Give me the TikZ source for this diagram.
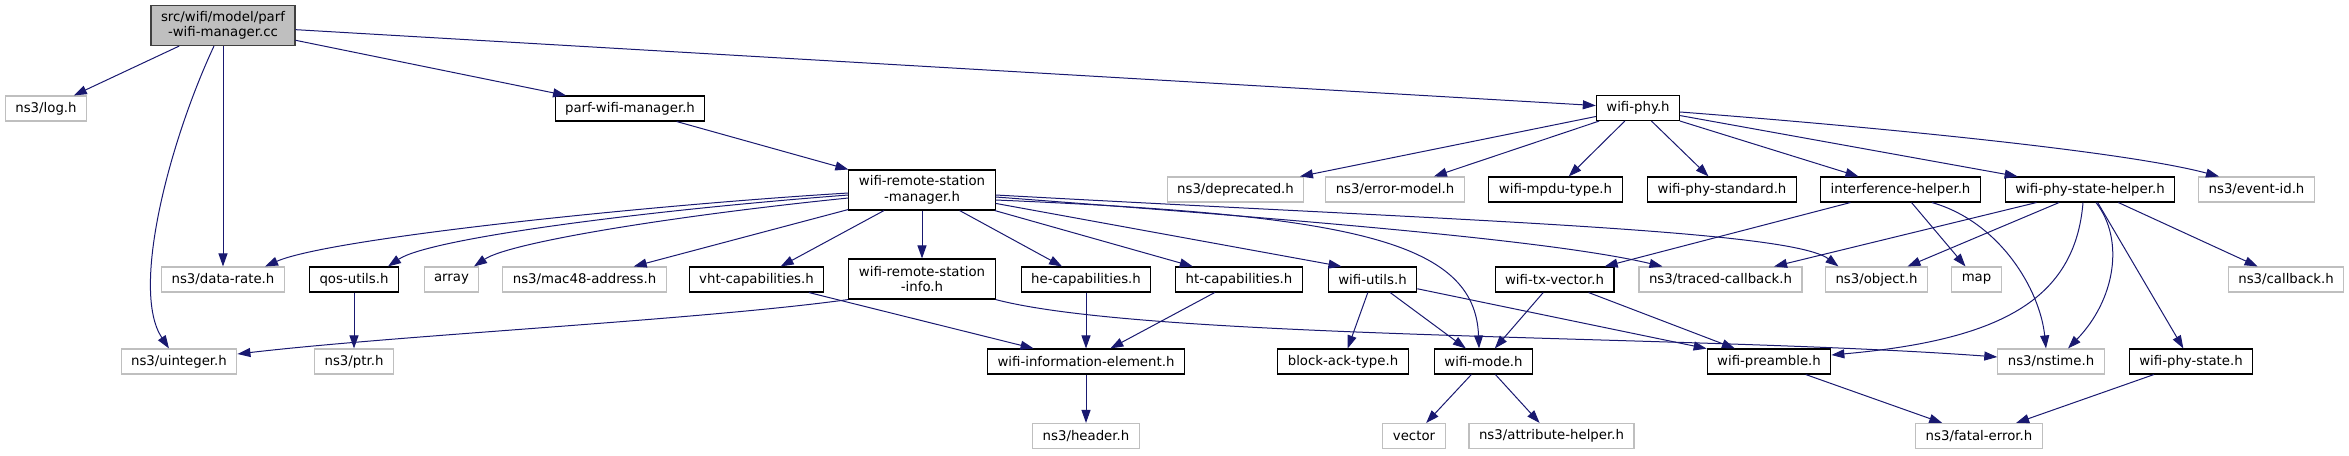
\documentclass[tikz,border=0pt]{standalone}
\usepackage{fontspec}
\setmainfont{DejaVu Sans}
\usetikzlibrary{arrows.meta}
\definecolor{edgeblue}{HTML}{191970}
\definecolor{extgray}{HTML}{BFBFBF}
\definecolor{rootline}{HTML}{404040}

\begin{document}
\begin{tikzpicture}[x=1pt, y=-1pt,
  every node/.style={font=\fontsize{13.3}{15.5}\selectfont, inner xsep=10pt, inner ysep=0pt, minimum height=25pt, line width=1.1pt},
  doc/.style={draw=black, fill=white},
  ext/.style={draw=extgray, fill=white},
  root/.style={draw=rootline, fill=extgray, align=center, minimum height=40pt},
  twoline/.style={doc, align=center, minimum height=40pt},
  dep/.style={edgeblue, line width=1pt, -{Triangle[length=13pt,width=9pt]}}]
  \useasboundingbox (0,0) rectangle (2349,455);
  % top rows
  \node[root] (cc) at (223,25.5) {src/wifi/model/parf\\-wifi-manager.cc};
  \node[ext] (logh) at (46,108.5) {ns3/log.h};
  \node[doc] (parfh) at (630,108.5) {parf-wifi-manager.h};
  \node[doc] (phyh) at (1638,108) {wifi-phy.h};
  \node[twoline] (wrsm) at (922,190) {wifi-remote-station\\-manager.h};
  \node[ext] (deprec) at (1235.5,189.5) {ns3/deprecated.h};
  \node[ext] (errmod) at (1395,189.5) {ns3/error-model.h};
  \node[doc] (mpdu) at (1555.5,189.5) {wifi-mpdu-type.h};
  \node[doc] (phystd) at (1722,189.5) {wifi-phy-standard.h};
  \node[doc] (interf) at (1900.5,189.5) {interference-helper.h};
  \node[doc] (statehelp) at (2090,189.5) {wifi-phy-state-helper.h};
  \node[ext] (eventid) at (2256.5,189.5) {ns3/event-id.h};
  % middle row
  \node[ext] (datarate) at (223,279.5) {ns3/data-rate.h};
  \node[doc] (qos) at (354,279.5) {qos-utils.h};
  \node[ext] (array) at (451.5,279.5) {array};
  \node[ext] (mac48) at (584.5,279.5) {ns3/mac48-address.h};
  \node[doc] (vht) at (756.5,279.5) {vht-capabilities.h};
  \node[twoline] (wrsinfo) at (922,279) {wifi-remote-station\\-info.h};
  \node[doc] (hecap) at (1086,279.5) {he-capabilities.h};
  \node[doc] (htcap) at (1239,279.5) {ht-capabilities.h};
  \node[doc] (utils) at (1372.5,279.5) {wifi-utils.h};
  \node[doc] (txvec) at (1554.5,279.5) {wifi-tx-vector.h};
  \node[ext] (traced) at (1720.5,279.5) {ns3/traced-callback.h};
  \node[ext] (object) at (1876.5,279.5) {ns3/object.h};
  \node[ext] (map) at (1976.5,279.5) {map};
  \node[ext] (callback) at (2286,279.5) {ns3/callback.h};
  % lower rows
  \node[ext] (uinteger) at (179,361.5) {ns3/uinteger.h};
  \node[ext] (ptr) at (354,361.5) {ns3/ptr.h};
  \node[doc] (infoel) at (1086,361.5) {wifi-information-element.h};
  \node[doc] (blockack) at (1343,361.5) {block-ack-type.h};
  \node[doc] (mode) at (1483.5,361.5) {wifi-mode.h};
  \node[doc] (preamble) at (1769,361.5) {wifi-preamble.h};
  \node[ext] (nstime) at (2051,361.5) {ns3/nstime.h};
  \node[doc] (physt) at (2191,361.5) {wifi-phy-state.h};
  \node[ext] (header) at (1086,436) {ns3/header.h};
  \node[ext] (vector) at (1414,436) {vector};
  \node[ext] (attrib) at (1551.5,436) {ns3/attribute-helper.h};
  \node[ext] (fatal) at (1979,436) {ns3/fatal-error.h};
  % includes of the .cc file
  \draw[dep] (cc) -- (logh);
  \draw[dep] ([xshift=-9pt]cc.south) .. controls (170,140) and (130,290) .. ([xshift=-10pt]uinteger.north);
  \draw[dep] (cc) -- (datarate);
  \draw[dep] (cc) -- (parfh);
  \draw[dep] (cc) -- (phyh);
  \draw[dep] (parfh) -- (wrsm);
  % wifi-remote-station-manager.h
  \draw[dep] ([yshift=-3pt]wrsm.west) .. controls (650,205) and (330,238) .. ([xshift=42pt]datarate.north);
  \draw[dep] ([yshift=-5pt]wrsm.west) .. controls (650,210) and (430,238) .. ([xshift=34pt]qos.north);
  \draw[dep] ([yshift=-8pt]wrsm.west) .. controls (680,215) and (510,242) .. ([xshift=22.5pt]array.north);
  \draw[dep] (wrsm) -- (mac48);
  \draw[dep] (wrsm) -- (vht);
  \draw[dep] (wrsm) -- (wrsinfo);
  \draw[dep] (wrsm) -- (hecap);
  \draw[dep] (wrsm) -- (htcap);
  \draw[dep] (wrsm) -- ([xshift=-31pt]utils.north);
  \draw[dep] ([yshift=-10pt]wrsm.east) .. controls (1350,215) and (1475,240) .. ([xshift=-4.5pt]mode.north);
  \draw[dep] ([yshift=-7pt]wrsm.east) .. controls (1300,220) and (1550,240) .. ([xshift=-58pt]traced.north);
  \draw[dep] ([yshift=-5pt]wrsm.east) .. controls (1450,220) and (1790,230) .. ([xshift=-38pt]object.north);
  \draw[dep] (wrsinfo.south west) .. controls (700,320) and (400,335) .. ([yshift=7.5pt]uinteger.east);
  \draw[dep] (wrsinfo.south east) .. controls (1150,340) and (1700,335) .. ([yshift=4.5pt]nstime.west);
  \draw[dep] (qos) -- (ptr);
  \draw[dep] (vht) -- (infoel);
  \draw[dep] (hecap) -- (infoel);
  \draw[dep] (htcap) -- (infoel);
  \draw[dep] (infoel) -- (header);
  \draw[dep] (utils) -- (blockack);
  \draw[dep] (utils) -- (mode);
  \draw[dep] (utils) -- (preamble);
  \draw[dep] (txvec) -- (mode);
  \draw[dep] (txvec) -- (preamble);
  \draw[dep] (mode) -- (vector);
  \draw[dep] (mode) -- (attrib);
  % wifi-phy.h
  \draw[dep] (phyh) -- (deprec);
  \draw[dep] (phyh) -- (errmod);
  \draw[dep] (phyh) -- (mpdu);
  \draw[dep] (phyh) -- (phystd);
  \draw[dep] (phyh) -- (interf);
  \draw[dep] (phyh) -- (statehelp);
  \draw[dep] ([yshift=-4pt]phyh.east) .. controls (1850,125) and (2120,150) .. ([xshift=-37.5pt]eventid.north);
  \draw[dep] (interf) -- (txvec);
  \draw[dep] (interf) -- (map);
  \draw[dep] ([xshift=31.5pt]interf.south) .. controls (2000,222) and (2040,290) .. ([xshift=-5pt]nstime.north);
  \draw[dep] (statehelp) -- (traced);
  \draw[dep] (statehelp) -- (object);
  \draw[dep] ([xshift=-7pt]statehelp.south) .. controls (2075,300) and (2000,340) .. ([yshift=6.5pt]preamble.east);
  \draw[dep] ([xshift=6pt]statehelp.south) .. controls (2125,240) and (2115,300) .. ([xshift=17pt]nstime.north);
  \draw[dep] (statehelp) -- (physt);
  \draw[dep] (statehelp) -- (callback);
  \draw[dep] (preamble) -- (fatal);
  \draw[dep] (physt) -- (fatal);
\end{tikzpicture}
\end{document}
